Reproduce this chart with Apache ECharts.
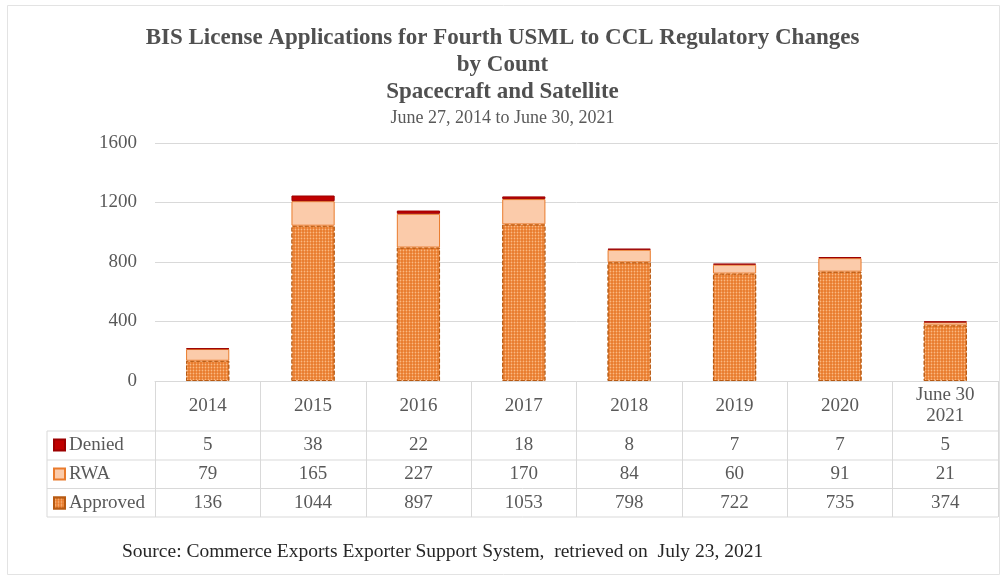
<!DOCTYPE html>
<html>
<head>
<meta charset="utf-8">
<script src="https://cdn.jsdelivr.net/npm/echarts@6/dist/echarts.min.js"></script>
<style>
html,body{margin:0;padding:0;background:#fff;}
#c{width:1005px;height:579px;}
</style>
</head>
<body>
<div id="c"></div>
<script>
const categories = ['2014','2015','2016','2017','2018','2019','2020','June 30\n2021'];
const denied = [5, 38, 22, 18, 8, 7, 7, 5];
const rwa = [79, 165, 227, 170, 84, 60, 91, 21];
const approved = [136, 1044, 897, 1053, 798, 722, 735, 374];
const yTicks = { min: 0, max: 1600, interval: 400 };

const FONT = '"Liberation Serif", "Times New Roman", serif';
const GRAY = '#595959';
const LINE = '#d9d9d9';

const G = { left: 155, right: 7, top: 143, bottom: 198 };
const W = 1005, H = 579;
const rowBounds = [431, 460, 488.5, 517];
const tableLeft = 47;

const chart = echarts.init(document.getElementById('c'), null, { renderer: 'canvas' });

function rowAxis(values, margin) {
  return {
    type: 'category', data: categories, gridIndex: 0, position: 'bottom',
    axisLine: { show: false }, axisTick: { show: false }, splitLine: { show: false },
    axisLabel: {
      interval: 0, margin: margin, verticalAlign: 'middle',
      fontFamily: FONT, fontSize: 19, color: GRAY,
      formatter: (v, i) => String(values[i])
    }
  };
}

const gridRight = W - G.right;
const graphics = [
  { type: 'rect', shape: { x: 7.5, y: 5.5, width: 992, height: 569 }, style: { fill: 'none', stroke: '#e3e3e3', lineWidth: 1 }, silent: true }
];
rowBounds.forEach(y => {
  graphics.push({ type: 'line', shape: { x1: tableLeft, y1: y, x2: gridRight, y2: y }, style: { stroke: LINE, lineWidth: 1 }, silent: true });
});
graphics.push({ type: 'line', shape: { x1: tableLeft, y1: rowBounds[0], x2: tableLeft, y2: rowBounds[3] }, style: { stroke: LINE, lineWidth: 1 }, silent: true });

const option = {
  animation: false,
  backgroundColor: '#fff',
  title: [
    {
      text: 'BIS License Applications for Fourth USML to CCL Regulatory Changes\nby Count\nSpacecraft and Satellite',
      subtext: 'June 27, 2014 to June 30, 2021',
      left: 'center', top: 20, itemGap: 2,
      textStyle: { fontFamily: FONT, fontSize: 23, fontWeight: 'bold', color: '#505050', lineHeight: 27 },
      subtextStyle: { fontFamily: FONT, fontSize: 18, color: GRAY, lineHeight: 20 }
    },
    {
      text: 'Source: Commerce Exports Exporter Support System,  retrieved on  July 23, 2021',
      left: 117, top: 537,
      textStyle: { fontFamily: FONT, fontSize: 19.5, fontWeight: 'normal', color: '#262626' }
    }
  ],
  legend: {
    data: ['Denied', 'RWA', 'Approved'],
    orient: 'vertical', left: 53, top: 435.5, padding: 0,
    itemWidth: 11, itemHeight: 11, itemGap: 10,
    icon: 'rect', selectedMode: false,
    textStyle: { fontFamily: FONT, fontSize: 19, color: GRAY, lineHeight: 19, padding: [0, 0, 0, -1] }
  },
  grid: { left: G.left, right: G.right, top: G.top, bottom: G.bottom, containLabel: false },
  xAxis: [
    {
      type: 'category', data: categories, gridIndex: 0, position: 'bottom',
      axisLine: { show: true, lineStyle: { color: LINE } },
      axisTick: { show: true, length: 136, lineStyle: { color: LINE } },
      axisLabel: { interval: 0, margin: 25, verticalAlign: 'middle', fontFamily: FONT, fontSize: 19, color: GRAY, lineHeight: 21 }
    },
    rowAxis(denied, 64),
    rowAxis(rwa, 93.5),
    rowAxis(approved, 122)
  ],
  yAxis: {
    type: 'value', min: yTicks.min, max: yTicks.max, interval: yTicks.interval,
    axisLine: { show: false }, axisTick: { show: false },
    axisLabel: { margin: 18, fontFamily: FONT, fontSize: 19, color: GRAY, formatter: v => String(v) },
    splitLine: { lineStyle: { color: LINE } }
  },
  series: [
    {
      name: 'Approved', type: 'bar', stack: 'total', data: approved, barWidth: '41%',
      itemStyle: {
        color: '#E97B2C', borderColor: '#B85A12', borderWidth: 1, borderType: 'dashed',
        decal: { symbol: 'circle', symbolSize: 0.6, color: 'rgba(255,205,160,0.75)', dashArrayX: [[3, 0]], dashArrayY: [3, 0], rotation: 0 }
      }
    },
    {
      name: 'RWA', type: 'bar', stack: 'total', data: rwa,
      itemStyle: { color: '#FBCBAA', borderColor: '#E97B2C', borderWidth: 1 }
    },
    {
      name: 'Denied', type: 'bar', stack: 'total', data: denied,
      itemStyle: { color: '#C00000', borderColor: '#9c0000', borderWidth: 1 }
    }
  ],
  graphic: graphics
};
chart.setOption(option);
</script>
</body>
</html>
